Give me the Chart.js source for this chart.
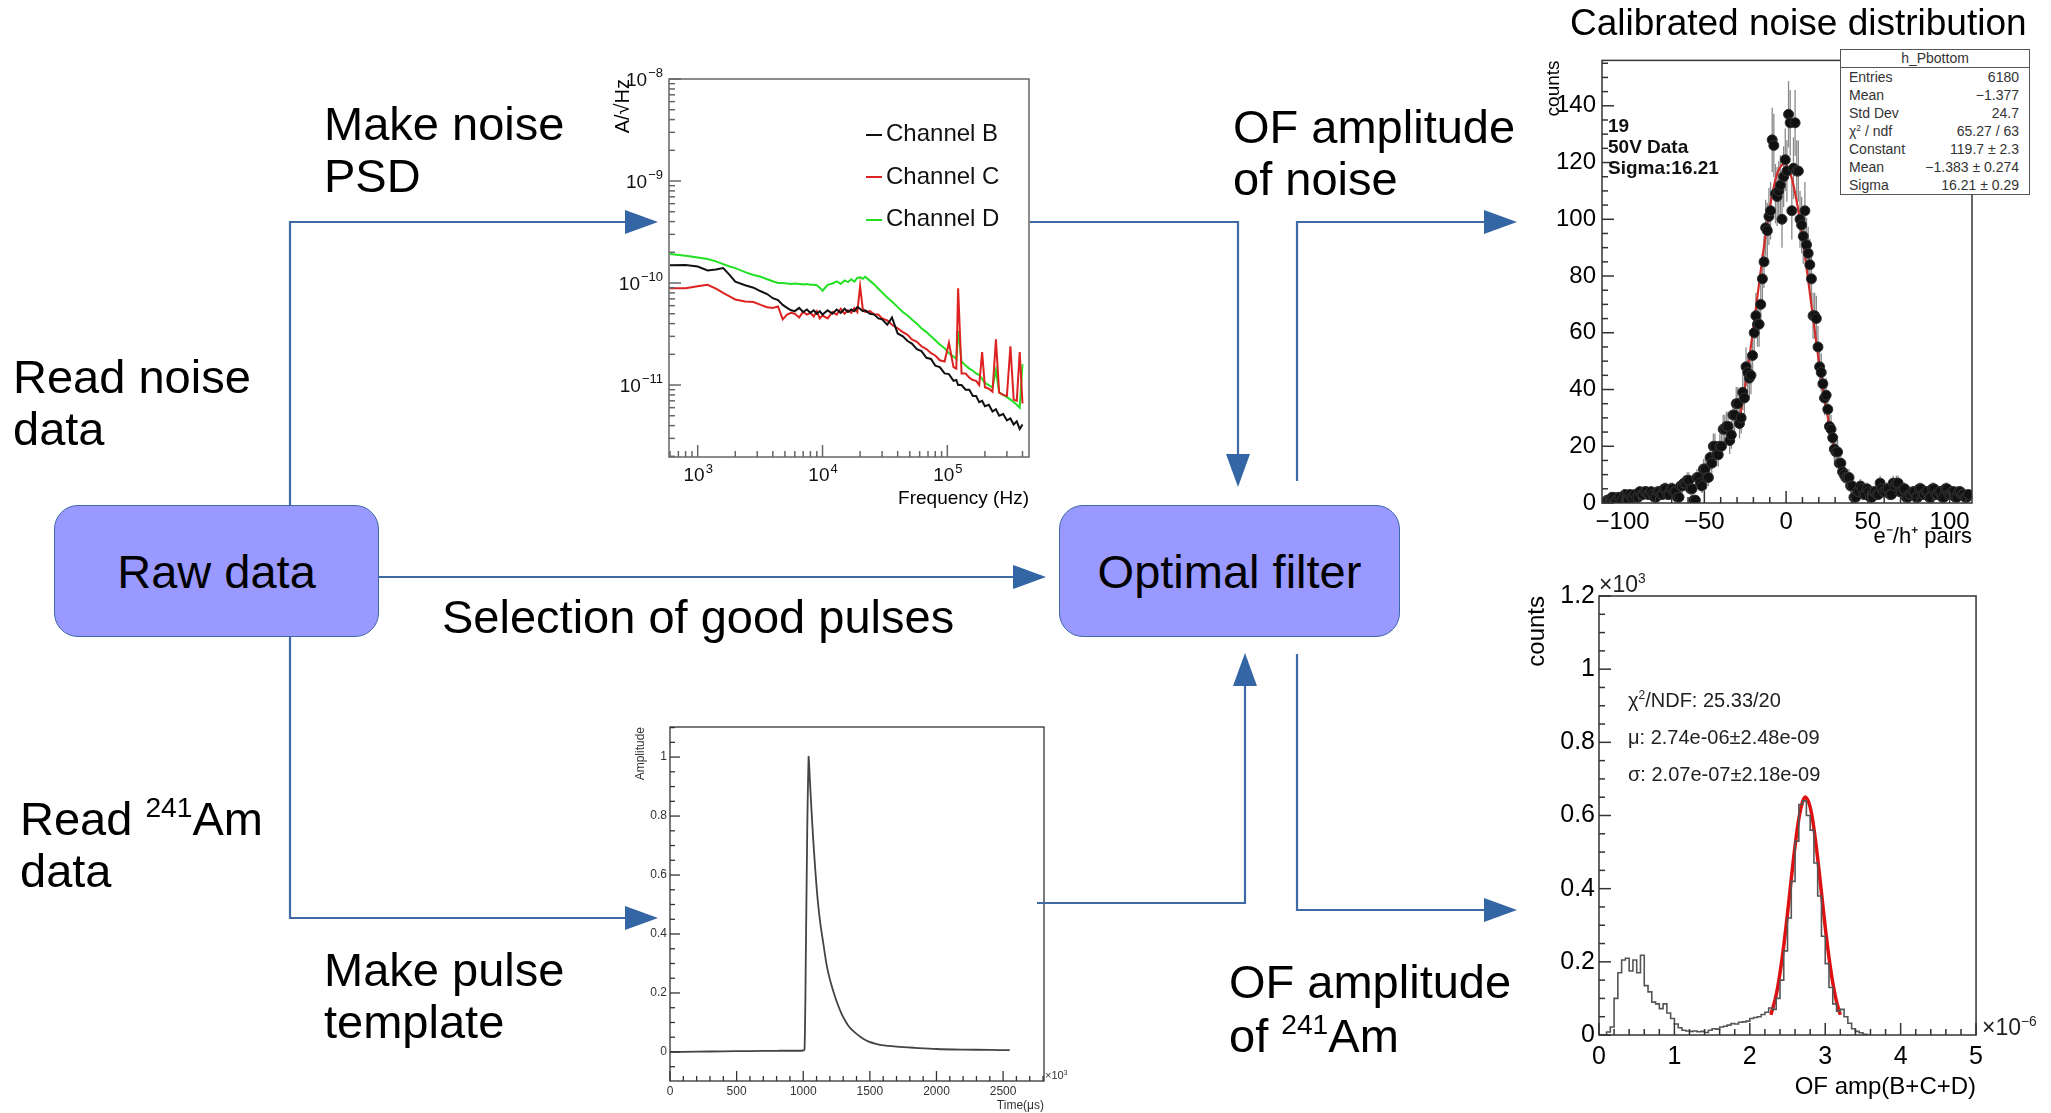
<!DOCTYPE html>
<html>
<head>
<meta charset="utf-8">
<script src="https://cdn.jsdelivr.net/npm/chart.js@4.4.0/dist/chart.umd.min.js"></script>
<style>
body { margin: 0; background: #fff; font-family: "Liberation Sans", Arial, sans-serif; }
#page { position: relative; width: 2051px; height: 1113px; overflow: hidden; background: #fff; }
.lbl { position: absolute; font-size: 47px; line-height: 52px; color: #000; white-space: nowrap; z-index: 3; }
.lbl sup, .note sup, #stats sup { font-size: 0.6em; vertical-align: 0.65em; line-height: 0; }
.box { position: absolute; box-sizing: border-box; background: #9999ff; border: 1.5px solid #3f68a8; border-radius: 24px;
       display: flex; align-items: center; justify-content: center; font-size: 47px; z-index: 3; }
canvas { position: absolute; z-index: 1; }
#arrows { position: absolute; left: 0; top: 0; z-index: 2; }
.note { position: absolute; white-space: nowrap; z-index: 3; color: #000; }
#stats { position: absolute; left: 1840px; top: 49px; width: 190px; height: 146px; box-sizing: border-box;
         border: 1.5px solid #555; background: #fff; font-size: 14px; color: #333; z-index: 3; }
#stats .hd { height: 17px; line-height: 17px; text-align: center; border-bottom: 1.5px solid #555; }
#stats .row { height: 18px; line-height: 18px; padding: 0 10px 0 8px; display: flex; justify-content: space-between; }
</style>
</head>
<body>
<div id="page">
  <svg id="arrows" width="2051" height="1113"></svg>

  <div class="lbl" style="left:324px;top:98px">Make noise<br>PSD</div>
  <div class="lbl" style="left:13px;top:351px">Read noise<br>data</div>
  <div class="lbl" style="left:20px;top:793px">Read <sup>241</sup>Am<br>data</div>
  <div class="lbl" style="left:324px;top:944px">Make pulse<br>template</div>
  <div class="lbl" style="left:442px;top:591px">Selection of good pulses</div>
  <div class="lbl" style="left:1233px;top:101px">OF amplitude<br>of noise</div>
  <div class="lbl" style="left:1229px;top:955px;line-height:54px">OF amplitude<br>of <sup>241</sup>Am</div>
  <div class="box" style="left:54px;top:505px;width:325px;height:132px">Raw data</div>
  <div class="box" style="left:1059px;top:505px;width:341px;height:132px">Optimal filter</div>

  <canvas id="psd" width="450" height="470" style="left:600px;top:55px"></canvas>
  <div id="psdLegend" class="note" style="left:866px;top:112px;font-size:24px;line-height:42.5px;color:#111"></div>

  <canvas id="pulse" width="440" height="398" style="left:620px;top:715px"></canvas>
  <div class="note" style="left:1045px;top:1069px;font-size:11px;color:#333">×10<sup>3</sup></div>

  <div class="note" style="left:1570px;top:3px;font-size:37px;line-height:40px">Calibrated noise distribution</div>
  <canvas id="noise" width="450" height="510" style="left:1530px;top:40px"></canvas>
  <div class="note" style="left:1608px;top:115px;font-size:19px;line-height:21px;font-weight:bold;color:#111">19<br>50V Data<br>Sigma:16.21</div>
  <div id="stats"></div>

  <canvas id="ofamp" width="470" height="530" style="left:1520px;top:575px"></canvas>
  <div class="note" style="left:1599px;top:571px;font-size:23px;color:#222">×10<sup>3</sup></div>
  <div class="note" style="left:1982px;top:1014px;font-size:23px;color:#222">×10<sup>−6</sup></div>
  <div class="note" style="left:1628px;top:682px;font-size:20px;line-height:37px;color:#222">χ<sup>2</sup>/NDF: 25.33/20<br>μ: 2.74e-06±2.48e-09<br>σ: 2.07e-07±2.18e-09</div>
</div>

<script>
// ---- noise PSD (values in units of 1e-11 A/sqrt(Hz)) ----
const psdFreq = [600, 800, 1000, 1200, 1400, 1600, 1800, 2000, 2400, 2800, 3200, 3600, 4000, 4400, 4800,
  5200, 5600, 6000, 6500, 7000, 7500, 8000, 8500, 9000, 9500, 10000,
  11000, 12000, 13000, 14000, 15000, 16000, 17000, 18000, 19000, 20000,
  21000, 22000, 24000, 26000, 28000, 30000, 33000, 36000,
  40000, 44000, 48000, 52000, 57000, 62000, 68000, 74000, 80000, 87000, 95000,
  103000, 112000, 118000, 122000, 130000, 140000, 150000, 160000, 170000, 180000, 190000,
  200000, 215000, 230000, 245000, 260000, 280000, 300000, 320000, 340000, 360000, 380000, 400000];
const psdB = [14.9, 15.0, 14.5, 13.3, 13.6, 14.0, 12.0, 10.3, 9.5, 9.0, 8.3, 7.8, 7.1, 6.8, 6.1,
  5.7, 5.4, 5.3, 5.7, 5.2, 5.5, 5.1, 5.4, 5.0, 5.3, 4.9,
  5.4, 5.0, 5.5, 5.1, 5.6, 5.2, 5.5, 5.3, 5.8, 5.6,
  5.3, 5.4, 5.0, 4.9, 4.5, 4.4, 3.9, 4.6,
  3.2, 3.0, 2.7, 2.55, 2.25, 2.15, 1.85, 1.8, 1.55, 1.5, 1.3,
  1.28, 1.1, 1.12, 1.0, 1.0, 0.9, 0.9, 0.78, 0.78, 0.68, 0.7,
  0.62, 0.64, 0.55, 0.58, 0.5, 0.52, 0.45, 0.47, 0.41, 0.44, 0.37, 0.41];
const psdC = [8.9, 8.9, 9.3, 9.6, 8.8, 8.0, 7.4, 6.9, 6.6, 6.5, 6.1, 5.8, 5.7, 5.9, 4.4,
  4.9, 5.1, 5.0, 4.6, 5.2, 4.9, 5.1, 4.7, 5.3, 4.5, 4.8,
  4.5, 5.2, 4.9, 5.6, 5.0, 5.4, 5.1, 5.7, 5.2, 9.3,
  5.6, 5.2, 5.3, 4.9, 4.9, 4.5, 4.3, 3.9,
  3.6, 3.3, 3.1, 2.8, 2.65, 2.4, 2.25, 2.05, 1.95, 1.75, 1.7,
  2.6, 1.5, 1.45, 8.9, 1.3, 1.3, 1.18, 1.12, 1.1, 1.0, 2.1,
  0.95, 0.92, 0.86, 2.8, 0.84, 0.8, 0.78, 2.4, 0.72, 0.7, 2.1, 0.66];
const psdD = [19.3, 18.5, 17.8, 17.2, 16.3, 15.3, 14.5, 14.0, 12.8, 12.0, 11.5, 10.9, 10.4, 10.0, 10.0,
  9.9, 9.8, 9.9, 9.8, 9.7, 9.8, 9.6, 9.6, 9.5, 9.0, 8.4,
  9.6, 9.9, 10.4, 9.8, 10.6, 10.2, 10.9, 10.3, 11.2, 11.4,
  11.0, 11.5, 10.5, 9.7, 8.8, 8.1, 7.2, 6.6,
  5.8, 5.2, 4.8, 4.4, 4.0, 3.6, 3.3, 3.0, 2.75, 2.5, 2.3,
  2.05, 1.9, 1.8, 3.4, 1.7, 1.55, 1.45, 1.38, 1.3, 1.25, 1.15,
  1.05, 1.0, 0.94, 1.4, 0.85, 0.8, 0.76, 0.72, 0.68, 0.64, 0.6, 1.6];
const psdLabels = ['Channel B', 'Channel C', 'Channel D'];
const psdColors = ['#111111', '#dd2222', '#22e022'];

// ---- pulse template ----
const pulseTime = [0, 200, 400, 600, 800, 1000, 1010, 1020, 1030, 1040, 1045, 1050, 1062, 1075, 1087, 1100,
  1112, 1130, 1150, 1170, 1187, 1210, 1237, 1260, 1287, 1310, 1337, 1370, 1412, 1450, 1487, 1540,
  1587, 1700, 1837, 2000, 2200, 2400, 2550];
const pulseAmp = [0, 0.001, 0.002, 0.003, 0.004, 0.005, 0.01, 0.35, 0.75, 1.0, 0.97, 0.92, 0.82, 0.72, 0.64, 0.56,
  0.50, 0.43, 0.37, 0.31, 0.27, 0.23, 0.19, 0.16, 0.13, 0.11, 0.09, 0.073, 0.057, 0.045, 0.036, 0.028,
  0.023, 0.018, 0.014, 0.010, 0.008, 0.007, 0.006];

// ---- calibrated noise distribution (bins of 1 pair starting at -110) ----
const noiseBinStart = -110, noiseBinWidth = 1;
const noiseCounts = [
  1, 1, 1, 2, 2, 1, 1, 2, 2, 1,
  2, 3, 1, 1, 3, 2, 2, 3, 2, 2,
  4, 3, 3, 4, 4, 3, 3, 4, 3, 2,
  2, 4, 4, 3, 3, 5, 5, 3, 3, 5,
  5, 4, 4, 2, 2, 6, 6, 7, 7, 8,
  8, 5, 5, 1, 1, 9, 9, 7, 6, 12,
  12, 9, 9, 16, 14, 20, 20, 17, 17, 20,
  20, 26, 26, 27, 27, 22, 24, 31, 31, 35,
  35, 28, 30, 39, 37, 48, 46, 44, 45, 52,
  60, 66, 63, 63, 70, 79, 85, 97, 96, 101,
  103, 128, 126, 109, 108, 110, 112, 100, 115, 121,
  117, 137, 134, 103, 118, 134, 117, 117, 100, 98,
  94, 103, 91, 88, 84, 79, 66, 66, 65, 55,
  48, 46, 42, 37, 38, 33, 27, 26, 23, 19,
  18, 18, 14, 14, 11, 10, 9, 9, 9, 6,
  6, 2, 2, 4, 4, 6, 5, 3, 3, 5,
  4, 2, 2, 4, 4, 3, 3, 7, 5, 4,
  4, 5, 5, 3, 3, 7, 6, 7, 7, 4,
  4, 5, 5, 2, 2, 3, 3, 4, 4, 2,
  2, 5, 5, 3, 3, 4, 4, 2, 2, 5,
  5, 3, 3, 4, 4, 2, 2, 5, 5, 3,
  3, 4, 4, 2, 2, 4, 4, 3, 3, 2,
  2, 3];
const noiseFitX = [-29, -27, -25, -22.5, -20, -17.5, -15, -12.5, -10, -7.5, -5, -1.4, 1, 3, 5, 7, 9, 11, 13, 15, 17, 19, 21, 23, 25, 27, 29, 30];
const noiseFitY = [28.0, 34.3, 41.4, 51.2, 61.9, 73, 84.1, 94.6, 103.9, 111.5, 116.8, 119.7, 118.4, 115.4, 110.7, 104.7, 97.5, 89.4, 80.8, 71.9, 63, 54.3, 46.2, 38.6, 31.8, 25.8, 20.7, 18.4];
const noiseStats = [['Entries', '6180'], ['Mean', '−1.377'], ['Std Dev', '24.7'], ['χ<sup>2</sup> / ndf', '65.27 / 63'],
  ['Constant', '119.7 ± 2.3'], ['Mean', '−1.383 ± 0.274'], ['Sigma', '16.21 ± 0.29']];

// ---- OF amplitude of 241Am (x in units of 1e-6, bins of 0.05) ----
const ofBinStart = 0, ofBinWidth = 0.05;
const ofCounts = [0, 0, 8, 22, 100, 170, 205, 210, 175, 205,
  170, 218, 135, 118, 90, 85, 72, 85, 60, 45,
  30, 20, 13, 11, 10, 11, 9, 10, 7, 13,
  17, 16, 22, 24, 27, 31, 30, 35, 36, 38,
  45, 48, 50, 56, 62, 74, 70, 100, 150, 230,
  320, 420, 530, 630, 640, 600, 560, 470, 380, 270,
  195, 130, 85, 65, 70, 50, 32, 17, 10, 6,
  2, 0];
const ofFitX = [2.28, 2.35, 2.4, 2.45, 2.5, 2.55, 2.6, 2.65, 2.7, 2.74, 2.8, 2.85, 2.9, 2.95, 3.0, 3.05, 3.1, 3.15, 3.2];
const ofFitY = [55, 110, 169, 244, 332, 427, 517, 591, 638, 650, 623, 564, 482, 389, 295, 212, 143, 91, 55];

// ---- flowchart arrows ----
const flows = [
  [[290, 505], [290, 222], [658, 222]],
  [[290, 637], [290, 918], [658, 918]],
  [[379, 577], [1046, 577]],
  [[1030, 222], [1238, 222], [1238, 487]],
  [[1037, 903], [1245, 903], [1245, 653]],
  [[1297, 481], [1297, 222], [1517, 222]],
  [[1297, 654], [1297, 910], [1517, 910]]
];

const svg = document.getElementById('arrows');
let svgHtml = '';
flows.forEach(pts => {
  const tip = pts[pts.length - 1], prev = pts[pts.length - 2];
  const len = Math.hypot(tip[0] - prev[0], tip[1] - prev[1]);
  const dx = (tip[0] - prev[0]) / len, dy = (tip[1] - prev[1]) / len;
  const bx = tip[0] - dx * 33, by = tip[1] - dy * 33;
  const line = pts.slice(0, -1).concat([[bx, by]]).map(p => p.join(',')).join(' ');
  svgHtml += `<polyline points="${line}" fill="none" stroke="#3f6aa6" stroke-width="2.2"/>`;
  svgHtml += `<polygon points="${tip.join(',')} ${bx - dy * 12},${by + dx * 12} ${bx + dy * 12},${by - dx * 12}" fill="#3465a4"/>`;
});
svg.innerHTML = svgHtml;

// legend + stats box
document.getElementById('psdLegend').innerHTML = psdLabels.map((l, i) =>
  `<div><span style="display:inline-block;width:16px;height:2px;background:${psdColors[i]};vertical-align:middle;margin-right:4px"></span>${l}</div>`).join('');
document.getElementById('stats').innerHTML = '<div class="hd">h_Pbottom</div>' +
  noiseStats.map(r => `<div class="row"><span>${r[0]}</span><span>${r[1]}</span></div>`).join('');

const FONT = '"Liberation Sans", Arial, sans-serif';
Chart.defaults.font.family = FONT;
Chart.defaults.color = '#000';

function fixTicks(vals) { return s => { s.ticks = vals.map(v => ({value: v})); }; }
function minus(v) { return v < 0 ? '−' + Math.abs(v) : String(v); }

function tickList(s, o) {
  const out = [];
  if (s.type === 'logarithmic') {
    for (let e = Math.floor(Math.log10(s.min)); e <= Math.ceil(Math.log10(s.max)); e++) {
      for (let m = 1; m < 10; m++) {
        const v = m * Math.pow(10, e);
        if (v >= s.min && v <= s.max) out.push({v, major: m === 1});
      }
    }
  } else {
    const n0 = Math.ceil(s.min / o.minor - 1e-9), n1 = Math.floor(s.max / o.minor + 1e-9);
    const ratio = Math.round(o.major / o.minor);
    for (let n = n0; n <= n1; n++) out.push({v: n * o.minor, major: ((n % ratio) + ratio) % ratio === 0});
  }
  return out;
}

// ROOT-like frame with inward ticks
const rootFrame = {
  id: 'rootFrame',
  afterDatasetsDraw(chart, args, opts) {
    const {ctx, chartArea: a} = chart;
    ctx.save();
    ctx.strokeStyle = opts.color;
    ctx.lineWidth = opts.width;
    ctx.strokeRect(a.left, a.top, a.right - a.left, a.bottom - a.top);
    ['x', 'y'].forEach(id => {
      const s = chart.scales[id];
      tickList(s, opts[id] || {}).forEach(t => {
        const p = s.getPixelForValue(t.v);
        const len = t.major ? opts.majorLen : opts.minorLen;
        ctx.beginPath();
        if (id === 'x') { ctx.moveTo(p, a.bottom); ctx.lineTo(p, a.bottom - len); }
        else { ctx.moveTo(a.left, p); ctx.lineTo(a.left + len, p); }
        ctx.stroke();
      });
    });
    ctx.restore();
  }
};

// power-of-ten tick labels (10 with a raised exponent) for log axes
const powLabels = {
  id: 'powLabels',
  afterDraw(chart, args, opts) {
    if (!opts.enabled) return;
    const {ctx, chartArea: a} = chart;
    ctx.save();
    ctx.fillStyle = '#111';
    ctx.textBaseline = 'alphabetic';
    ['x', 'y'].forEach(id => {
      const s = chart.scales[id];
      s.ticks.forEach(t => {
        const e = String(Math.round(Math.log10(t.value))).replace('-', '−');
        const p = s.getPixelForValue(t.value);
        ctx.font = `${opts.size}px ${FONT}`;
        const wb = ctx.measureText('10').width;
        ctx.font = `${opts.expSize}px ${FONT}`;
        const we = ctx.measureText(e).width;
        let x0, yb;
        if (id === 'x') { x0 = p - (wb + we) / 2; yb = a.bottom + opts.pad + opts.size * 0.9; }
        else { x0 = a.left - opts.pad - wb - we; yb = p + opts.size * 0.36; }
        ctx.font = `${opts.size}px ${FONT}`;
        ctx.fillText('10', x0, yb);
        ctx.font = `${opts.expSize}px ${FONT}`;
        ctx.fillText(e, x0 + wb + 1, yb - opts.size * 0.45);
      });
    });
    ctx.restore();
  }
};

// vertical statistical error bars for the noise histogram
const errorBars = {
  id: 'errorBars',
  beforeDatasetsDraw(chart, args, opts) {
    if (!opts.enabled) return;
    const {ctx} = chart, x = chart.scales.x, y = chart.scales.y;
    ctx.save();
    ctx.strokeStyle = '#8a8a8a';
    ctx.lineWidth = 1.3;
    chart.data.datasets[0].data.forEach(p => {
      const e = Math.sqrt(p.y);
      const px = x.getPixelForValue(p.x);
      ctx.beginPath();
      ctx.moveTo(px, y.getPixelForValue(Math.max(0, p.y - e)));
      ctx.lineTo(px, y.getPixelForValue(p.y + e));
      ctx.stroke();
    });
    ctx.restore();
  }
};

const base = {
  responsive: false, animation: false, devicePixelRatio: 1,
  plugins: {legend: {display: false}, tooltip: {enabled: false}}
};
const noGrid = {display: false, drawTicks: false};

// PSD
new Chart(document.getElementById('psd'), {
  type: 'line',
  data: {
    datasets: [psdB, psdC, psdD].map((vals, i) => ({
      label: psdLabels[i],
      data: psdFreq.map((f, k) => ({x: f, y: vals[k] * 1e-11})),
      borderColor: psdColors[i], borderWidth: 2, pointRadius: 0, tension: 0
    }))
  },
  options: {
    ...base,
    layout: {padding: {top: 24, right: 21, left: 0, bottom: 0}},
    plugins: {...base.plugins,
      rootFrame: {color: '#666', width: 1.5, majorLen: 12, minorLen: 6},
      powLabels: {enabled: true, size: 19, expSize: 13, pad: 7}},
    scales: {
      x: {
        type: 'logarithmic', min: 589, max: 451000,
        afterBuildTicks: fixTicks([1e3, 1e4, 1e5]), afterFit: s => { s.height = 68; },
        grid: noGrid, border: {display: false},
        ticks: {display: false},
        title: {display: true, text: 'Frequency (Hz)', align: 'end', font: {size: 19}, padding: {top: 0, bottom: 15}}
      },
      y: {
        type: 'logarithmic', min: 1.97e-12, max: 1e-8,
        afterBuildTicks: fixTicks([1e-11, 1e-10, 1e-9, 1e-8]), afterFit: s => { s.width = 69; },
        grid: noGrid, border: {display: false},
        ticks: {display: false},
        title: {display: true, text: 'A/√Hz', align: 'end', font: {size: 20}, padding: {top: 11, bottom: 0}}
      }
    }
  },
  plugins: [rootFrame, powLabels]
});

// pulse template
const narrow = '"Liberation Sans Narrow", "Liberation Sans", Arial, sans-serif';
new Chart(document.getElementById('pulse'), {
  type: 'line',
  data: {datasets: [{data: pulseTime.map((t, i) => ({x: t, y: pulseAmp[i]})), borderColor: '#444', borderWidth: 1.8, pointRadius: 0, tension: 0.3}]},
  options: {
    ...base,
    layout: {padding: {top: 12, right: 16, left: 0, bottom: 0}},
    plugins: {...base.plugins, rootFrame: {color: '#333', width: 1.3, majorLen: 10, minorLen: 5,
      x: {major: 500, minor: 100}, y: {major: 0.2, minor: 0.05}}},
    scales: {
      x: {
        type: 'linear', min: 0, max: 2807,
        afterBuildTicks: fixTicks([0, 500, 1000, 1500, 2000, 2500]), afterFit: s => { s.height = 32; },
        grid: noGrid, border: {display: false},
        ticks: {font: {size: 12, family: narrow}, color: '#333', padding: 3, maxRotation: 0, autoSkip: false, callback: v => String(v)},
        title: {display: true, text: 'Time(μs)', align: 'end', color: '#333', font: {size: 12, family: narrow}, padding: {top: 0, bottom: 0}}
      },
      y: {
        type: 'linear', min: -0.0985, max: 1.102,
        afterBuildTicks: fixTicks([0, 0.2, 0.4, 0.6, 0.8, 1]), afterFit: s => { s.width = 50; },
        grid: noGrid, border: {display: false},
        ticks: {font: {size: 12, family: narrow}, color: '#333', padding: 3, autoSkip: false, callback: v => String(v)},
        title: {display: true, text: 'Amplitude', align: 'end', color: '#333', font: {size: 12, family: narrow}, padding: {top: 13, bottom: 0}}
      }
    }
  },
  plugins: [rootFrame]
});

// calibrated noise distribution
new Chart(document.getElementById('noise'), {
  type: 'scatter',
  data: {
    datasets: [
      {data: noiseCounts.map((c, i) => ({x: noiseBinStart + noiseBinWidth * (i + 0.5), y: c})),
        pointRadius: 5, pointBackgroundColor: '#111', pointBorderColor: '#333', pointBorderWidth: 1, showLine: false},
      {type: 'line', data: noiseFitX.map((x, i) => ({x, y: noiseFitY[i]})),
        borderColor: '#d42a2a', borderWidth: 2.2, pointRadius: 0, tension: 0.4}
    ]
  },
  options: {
    ...base,
    layout: {padding: {top: 13, right: 8, left: 0, bottom: 0}},
    plugins: {...base.plugins, errorBars: {enabled: true},
      rootFrame: {color: '#333', width: 1.5, majorLen: 12, minorLen: 6, x: {major: 50, minor: 10}, y: {major: 20, minor: 5}}},
    scales: {
      x: {
        type: 'linear', min: -112.6, max: 113.7,
        afterBuildTicks: fixTicks([-100, -50, 0, 50, 100]), afterFit: s => { s.height = 47; },
        grid: noGrid, border: {display: false},
        ticks: {font: {size: 24}, padding: 5, maxRotation: 0, autoSkip: false, callback: v => minus(v)},
        title: {display: true, text: 'e⁻/h⁺ pairs', align: 'end', font: {size: 22}, padding: {top: 0, bottom: 0}}
      },
      y: {
        type: 'linear', min: 0, max: 156,
        afterBuildTicks: fixTicks([0, 20, 40, 60, 80, 100, 120, 140]), afterFit: s => { s.width = 72; },
        grid: noGrid, border: {display: false},
        ticks: {font: {size: 24}, padding: 6, autoSkip: false},
        title: {display: true, text: 'counts', align: 'end', font: {size: 19}, padding: {top: 12, bottom: 0}}
      }
    }
  },
  plugins: [errorBars, rootFrame]
});

// OF amplitude of 241Am
const ofStep = ofCounts.map((c, i) => ({x: ofBinStart + ofBinWidth * i, y: c}));
ofStep.push({x: ofBinStart + ofBinWidth * ofCounts.length, y: ofCounts[ofCounts.length - 1]});
new Chart(document.getElementById('ofamp'), {
  type: 'line',
  data: {
    datasets: [
      {data: ofStep, stepped: 'before', borderColor: '#555', borderWidth: 1.6, pointRadius: 0},
      {data: ofFitX.map((x, i) => ({x, y: ofFitY[i]})), borderColor: '#dd1111', borderWidth: 3.5, pointRadius: 0, tension: 0.4}
    ]
  },
  options: {
    ...base,
    layout: {padding: {top: 21, right: 10, left: 0, bottom: 0}},
    plugins: {...base.plugins, rootFrame: {color: '#333', width: 1.5, majorLen: 12, minorLen: 6,
      x: {major: 1, minor: 0.2}, y: {major: 200, minor: 50}}},
    scales: {
      x: {
        type: 'linear', min: 0, max: 5,
        afterBuildTicks: fixTicks([0, 1, 2, 3, 4, 5]), afterFit: s => { s.height = 70; },
        grid: noGrid, border: {display: false},
        ticks: {font: {size: 25}, padding: 7, maxRotation: 0, autoSkip: false},
        title: {display: true, text: 'OF amp(B+C+D)', align: 'end', font: {size: 24}, padding: {top: 0, bottom: 3}}
      },
      y: {
        type: 'linear', min: 0, max: 1200,
        afterBuildTicks: fixTicks([0, 200, 400, 600, 800, 1000, 1200]), afterFit: s => { s.width = 79; },
        grid: noGrid, border: {display: false},
        ticks: {font: {size: 25}, padding: 4, autoSkip: false, callback: v => String(v / 1000)},
        title: {display: true, text: 'counts', align: 'end', font: {size: 24}, padding: {top: 3, bottom: 0}}
      }
    }
  },
  plugins: [rootFrame]
});
</script>
</body>
</html>
